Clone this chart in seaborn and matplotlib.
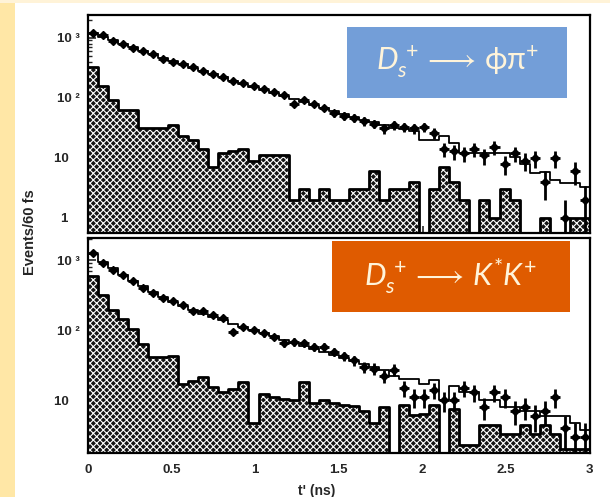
import numpy as np
import matplotlib
matplotlib.use("Agg")
import matplotlib.pyplot as plt
from matplotlib.patches import Rectangle
from matplotlib.ticker import FixedLocator, FixedFormatter, LogLocator, NullFormatter
import seaborn as sns

# ---------------- data (50 bins of 60 fs from 0 to 3 ns) ----------------
bin_edges = [round(0.06 * i, 2) for i in range(51)]

phipi_data = [1200, 1100, 880, 780, 680, 600, 530, 450, 400, 360,
              320, 280, 245, 220, 190, 175, 160, 140, 125, 110,
              78, 92, 78, 68, 56, 50, 46, 41, 37, 31,
              35, 33, 31, 33, 26, 14, 13, 12, 14, 11,
              15, 8, 12, 9, 10, 4, 10, 1, 6, 2]
phipi_fit = [1180, 1040, 900, 790, 690, 605, 530, 465, 408, 360,
             318, 280, 247, 218, 193, 171, 152, 135, 120, 107,
             95, 85, 76, 68, 60, 54, 48, 43, 39, 35,
             32, 30, 28, 20, 20, 23, 17.5, 12, 12, 12,
             12, 12, 10.5, 8, 5.5, 5.9, 4.3, 3.8, 3.8, 3.3]
phipi_bkg = [330, 155, 92, 63, 63, 31, 31, 31, 35, 23,
             20, 14, 7, 12, 13, 14, 9, 11, 11, 11,
             2, 3, 2, 3, 2, 2, 3, 3, 6, 2,
             3, 3, 4, 0, 3, 7, 4, 2, 0, 2,
             1, 3, 2, 0, 0, 1, 0, 0, 1, 1]

kstk_data = [1260, 910, 720, 615, 495, 400, 340, 286, 257, 230,
             190, 185, 163, 147, 95, 112, 100, 90, 80, 65,
             68, 65, 58, 58, 49, 42, 37, 30, 28, 22,
             27, 15, 11, 11, 14, 10, 10, 15, 13, 8,
             13, 11, 7, 8, 6, 7, 11, 4, 3, 3]
kstk_fit = [1200, 950, 760, 620, 510, 420, 350, 295, 255, 220,
            195, 172, 153, 137, 123, 111, 100, 90, 81, 73,
            66, 60, 54, 49, 44, 40, 36, 33, 30, 27,
            22, 20, 20, 17, 19.5, 10, 16, 13, 13, 10,
            10, 8, 8, 7, 7, 6, 6, 6, 4.7, 3.7]
kstk_bkg = [600, 316, 193, 143, 103, 63, 41, 41, 43, 17,
            19, 21, 15.5, 13, 14.5, 18, 4.7, 12, 11, 10.5,
            10, 18, 9, 10, 9, 8.6, 8.2, 6.9, 4.7, 8,
            0, 8.5, 6.2, 6.4, 8.5, 0, 7.4, 2.3, 2.3, 4.4,
            4.4, 3.3, 3.3, 4.4, 3.3, 4.4, 3.3, 2, 2, 2]

x_ticks = [0, 0.5, 1, 1.5, 2, 2.5, 3]
x_ticklabels = ["0", "0.5", "1", "1.5", "2", "2.5", "3"]
top_yticks = [1, 10, 100, 1000]
top_ylabels = ["1   ", "10   ", "10 \u00b2", "10 \u00b3"]
bot_yticks = [10, 100, 1000]
bot_ylabels = ["10   ", "10 \u00b2", "10 \u00b3"]
label_top = r"$D_s^{\,+}\longrightarrow\,\mathrm{\phi\pi}^{+}$"
label_bot = r"$D_s^{\,+}\longrightarrow\,K^{*}K^{+}$"

# ---------------- style ----------------
sns.set_style("ticks")
plt.rcParams["font.family"] = ["Liberation Sans", "DejaVu Sans"]
plt.rcParams["hatch.linewidth"] = 0.8
plt.rcParams["mathtext.fontset"] = "custom"
plt.rcParams["mathtext.rm"] = "Lato"
plt.rcParams["mathtext.it"] = "Lato:italic"
plt.rcParams["mathtext.sf"] = "Lato"

fig = plt.figure(figsize=(6.1, 4.97), dpi=100, facecolor="white")
fig.patches.append(Rectangle((0, 0), 15 / 610, 1, transform=fig.transFigure,
                             facecolor="#FFE7A6", edgecolor="none", zorder=0))
fig.patches.append(Rectangle((0, 1 - 3 / 497), 1, 3 / 497, transform=fig.transFigure,
                             facecolor="#FFF3D8", edgecolor="none", zorder=0))

ax1 = fig.add_axes([0.144, 0.531, 0.823, 0.439])
ax2 = fig.add_axes([0.144, 0.0885, 0.823, 0.4325])

centers = [(bin_edges[i] + bin_edges[i + 1]) / 2 for i in range(50)]


def draw_panel(ax, data, fit, bkg, ylim, yticks, ylabels):
    ax.set_yscale("log")
    # hatched background: dark fill with light hatch texture
    sns.histplot(x=centers, weights=bkg, bins=bin_edges, element="step", fill=True,
                 facecolor="#151515", edgecolor="white", hatch="xxxxx", linewidth=0,
                 ax=ax, zorder=2)
    sns.histplot(x=centers, weights=bkg, bins=bin_edges, element="step", fill=False,
                 color="black", linewidth=2.0, ax=ax, zorder=2.5)
    sns.histplot(x=centers, weights=fit, bins=bin_edges, element="step", fill=False,
                 color="black", linewidth=1.3, ax=ax, zorder=3)
    d = np.array(data, dtype=float)
    ax.errorbar(centers, d, yerr=np.sqrt(d), xerr=0.03, fmt="D", ms=4.5,
                color="black", ecolor="black", elinewidth=2.0, capsize=0, zorder=4)
    ax.set_xlim(0, 3.0)
    ax.set_ylim(*ylim)
    ax.set_xlabel("")
    ax.set_ylabel("")
    ax.yaxis.set_major_locator(FixedLocator(yticks))
    ax.yaxis.set_major_formatter(FixedFormatter(ylabels))
    ax.yaxis.set_minor_locator(LogLocator(base=10, subs=np.arange(2, 10), numticks=20))
    ax.yaxis.set_minor_formatter(NullFormatter())
    ax.xaxis.set_major_locator(FixedLocator(x_ticks))
    ax.tick_params(axis="y", which="major", direction="in", length=6, width=1.2,
                   labelsize=9.5, pad=6)
    ax.tick_params(axis="y", which="minor", direction="in", length=3, width=1.0)
    ax.tick_params(axis="x", which="major", direction="in", length=5, width=1.2,
                   labelsize=9.5, pad=8)
    for lab in ax.get_yticklabels():
        lab.set_fontweight("bold")
    for s in ax.spines.values():
        s.set_visible(True)
        s.set_linewidth(1.6)
        s.set_color("black")
    ax.set_facecolor("white")


draw_panel(ax1, phipi_data, phipi_fit, phipi_bkg, (0.56, 2400), top_yticks, top_ylabels)
draw_panel(ax2, kstk_data, kstk_fit, kstk_bkg, (1.75, 2060), bot_yticks, bot_ylabels)

ax1.set_xticklabels([])
ax2.set_xticklabels(x_ticklabels, fontweight="bold")

# label boxes
fig.patches.append(Rectangle((347 / 610, 1 - 98 / 497), 220 / 610, 71 / 497,
                             transform=fig.transFigure, facecolor="#739ED8",
                             edgecolor="none", zorder=5))
fig.patches.append(Rectangle((332 / 610, 1 - 312 / 497), 238 / 610, 71 / 497,
                             transform=fig.transFigure, facecolor="#DF5B00",
                             edgecolor="none", zorder=5))
fig.text(457 / 610, 1 - 62 / 497, label_top, color="#FFF4DA", fontsize=22,
         ha="center", va="center", zorder=6)
fig.text(451 / 610, 1 - 276 / 497, label_bot, color="#FFF4DA", fontsize=22,
         ha="center", va="center", zorder=6)

fig.text(30 / 610, 1 - 232 / 497, "Events/60 fs", rotation=90, fontsize=10.5,
         fontweight="bold", ha="center", va="center")
fig.text(317 / 610, 1 - 491 / 497, "t' (ns)", fontsize=10, fontweight="bold",
         ha="center", va="center")

fig.savefig("out.png", dpi=100, facecolor="white")
